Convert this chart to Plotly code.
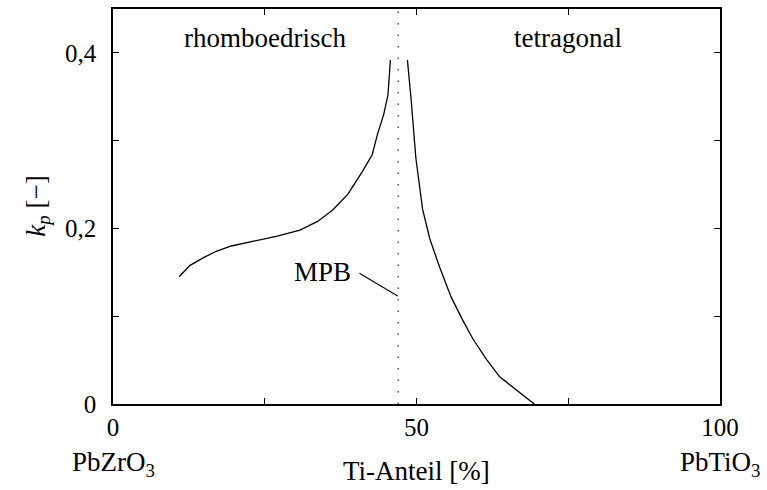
import plotly.graph_objects as go

# Data
rhombo_x = [10.9, 12.7, 15.0, 17.0, 19.5, 23.0, 26.9, 30.8, 33.7, 36.2, 38.7, 41.1, 42.7, 43.6, 44.6, 45.3, 45.7]
rhombo_y = [0.145, 0.158, 0.167, 0.174, 0.180, 0.185, 0.191, 0.198, 0.208, 0.221, 0.239, 0.265, 0.284, 0.308, 0.330, 0.352, 0.392]
tetra_x = [48.5, 49.1, 49.9, 51.0, 52.2, 53.8, 55.7, 57.5, 59.3, 61.5, 63.7, 66.4, 69.4]
tetra_y = [0.392, 0.348, 0.280, 0.222, 0.188, 0.156, 0.122, 0.097, 0.074, 0.051, 0.031, 0.016, 0.0]
mpb_x = 47.0
mpb_line_x = [40.6, 46.9]
mpb_line_y = [0.149, 0.123]

x_ticks = [0, 25, 50, 75, 100]
x_ticklabels = ["0", "", "50", "", "100"]
y_ticks = [0, 0.1, 0.2, 0.3, 0.4]
y_ticklabels = ["0", "", "0,2", "", "0,4"]

FONT = "Liberation Serif, serif"
FS = 27
TFS = 25

fig = go.Figure()
fig.add_trace(go.Scatter(x=rhombo_x, y=rhombo_y, mode="lines",
                         line=dict(color="black", width=1.3), showlegend=False))
fig.add_trace(go.Scatter(x=tetra_x, y=tetra_y, mode="lines",
                         line=dict(color="black", width=1.3), showlegend=False))
fig.add_trace(go.Scatter(x=mpb_line_x, y=mpb_line_y, mode="lines",
                         line=dict(color="black", width=1.1), showlegend=False))

fig.add_shape(type="line", x0=mpb_x, x1=mpb_x, y0=0, y1=1, xref="x", yref="paper",
              line=dict(color="#555555", width=1.5, dash="1.5px,10px"))

ann_font = dict(family=FONT, size=FS, color="black")
fig.add_annotation(x=25, y=0.417, text="rhomboedrisch", showarrow=False,
                   xanchor="center", yanchor="middle", font=ann_font)
fig.add_annotation(x=75, y=0.417, text="tetragonal", showarrow=False,
                   xanchor="center", yanchor="middle", font=ann_font)
fig.add_annotation(x=39.6, y=0.150, text="MPB", showarrow=False, xanchor="right",
                   yanchor="middle", font=ann_font)
fig.add_annotation(x=0, y=-0.153, xref="x", yref="paper", text="PbZrO<sub>3</sub>",
                   showarrow=False, xanchor="center", yanchor="middle", font=ann_font)
fig.add_annotation(x=100, y=-0.153, xref="x", yref="paper", text="PbTiO<sub>3</sub>",
                   showarrow=False, xanchor="center", yanchor="middle", font=ann_font)
fig.add_annotation(x=50, y=-0.17, xref="x", yref="paper", text="Ti-Anteil [%]",
                   showarrow=False, xanchor="center", yanchor="middle", font=ann_font)
fig.add_annotation(x=-0.125, y=0.5, xref="paper", yref="paper",
                   text="<i>k</i><sub><i>p</i></sub> [−]", textangle=-90,
                   showarrow=False, xanchor="center", yanchor="middle", font=ann_font)

axis_common = dict(showgrid=False, zeroline=False, showline=True, linecolor="black",
                   linewidth=1.7, mirror="ticks", ticks="inside", ticklen=6,
                   tickwidth=1.2, tickcolor="black",
                   tickfont=dict(family=FONT, size=TFS, color="black"))
fig.update_xaxes(range=[0, 100], tickvals=x_ticks, ticktext=x_ticklabels,
                 ticklabelstandoff=0, **axis_common)
fig.update_yaxes(range=[0, 0.45], tickvals=y_ticks, ticktext=y_ticklabels,
                 ticklabelstandoff=10, **axis_common)

fig.update_layout(width=767, height=490, plot_bgcolor="white", paper_bgcolor="white",
                  margin=dict(l=113, r=47, t=7, b=86), showlegend=False)

fig.write_html("out.html")
